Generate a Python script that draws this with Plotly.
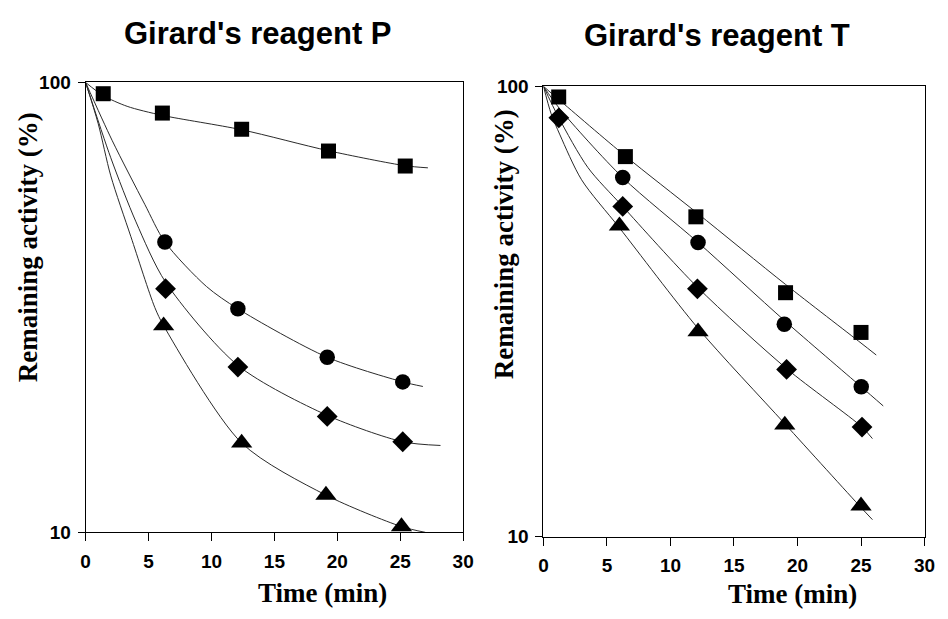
import plotly.graph_objects as go

W, H = 948, 619

# ---------------- Girard's reagent P (left) : measured points ----------------
P_sq_t = [1.4, 6.1, 12.4, 19.3, 25.4]
P_sq = [94.4, 85.5, 78.7, 70.4, 65.2]
P_ci_t = [6.3, 12.1, 19.2, 25.2]
P_ci = [44.2, 31.4, 24.5, 21.6]
P_di_t = [6.35, 12.1, 19.2, 25.2]
P_di = [34.8, 23.3, 18.1, 15.9]
P_tr_t = [6.2, 12.4, 19.1, 25.1]
P_tr = [28.8, 15.8, 12.1, 10.3]

# fitted curves
P_sq_ct = [0, 1.4, 3.3, 6.1, 12.4, 19.3, 25.4, 27.2]
P_sq_c = [100, 93.5, 88.5, 84.5, 78.5, 70.5, 65.3, 64.6]
P_ci_ct = [0, 2.1, 4.7, 6.3, 9.6, 12.1, 19.2, 25.2, 26.8]
P_ci_c = [100, 74.4, 53.6, 44.2, 35.2, 31.4, 24.5, 21.6, 21.1]
P_di_ct = [0, 2.0, 4.0, 6.35, 12.1, 19.2, 25.2, 28.2]
P_di_c = [100, 68, 49, 36, 23.5, 18.2, 15.9, 15.6]
P_tr_ct = [0, 1.0, 2.0, 3.6, 5.5, 6.2, 12.4, 19.1, 25.1, 27.0]
P_tr_c = [100, 81, 62, 45.4, 31.6, 28.8, 15.8, 12.1, 10.3, 10.0]

# ---------------- Girard's reagent T (right) : measured points ----------------
T_sq_t = [1.2, 6.45, 12.0, 19.06, 25.0]
T_sq = [94.7, 69.8, 51.3, 34.8, 28.4]
T_ci_t = [6.24, 12.17, 18.96, 25.02]
T_ci = [62.7, 45.0, 29.6, 21.5]
T_di_t = [1.21, 6.24, 12.12, 19.14, 25.08]
T_di = [85.1, 54.1, 35.5, 23.5, 17.5]
T_tr_t = [5.98, 12.17, 19.0, 25.0]
T_tr = [49.0, 28.5, 17.7, 11.7]

T_sq_ct = [0, 1.2, 6.45, 12.1, 19.06, 25.0, 26.2]
T_sq_c = [100, 93.5, 70, 52.3, 36.3, 26.9, 25.3]
T_ci_ct = [0, 1.3, 6.24, 12.17, 18.96, 25.02, 26.75]
T_ci_c = [100, 89, 62.7, 45.0, 30.2, 21.5, 19.5]
T_di_ct = [0, 1.21, 3.5, 6.24, 12.12, 19.14, 25.08, 25.9]
T_di_c = [100, 85.1, 66, 54.1, 35.8, 23.6, 17.5, 16.5]
T_tr_ct = [0, 0.6, 1.3, 3.0, 5.98, 12.17, 19.0, 25.0, 25.9]
T_tr_c = [100, 87, 78, 62, 48.5, 29.0, 17.8, 11.6, 10.9]

x_ticks = [0, 5, 10, 15, 20, 25, 30]
y_ticks = [10, 100]
y_ticktext = ["10", "100"]

titles = ["Girard's reagent P", "Girard's reagent T"]
x_title = "Time (min)"
y_title = "Remaining activity (%)"

fig = go.Figure()

LINE = dict(color="#2a2a2a", width=1)
MK = "black"


def add_panel(xa, ya, curves, points):
    for cx, cy in curves:
        fig.add_trace(go.Scatter(x=cx, y=cy, mode="lines", line=dict(shape="spline", smoothing=0.8, **LINE),
                                 xaxis=xa, yaxis=ya, showlegend=False, hoverinfo="skip"))
    for (px, py), sym, size in points:
        fig.add_trace(go.Scatter(x=px, y=py, mode="markers", cliponaxis=False,
                                 marker=dict(symbol=sym, size=size, color=MK, line=dict(width=0)),
                                 xaxis=xa, yaxis=ya, showlegend=False))


add_panel("x", "y",
          [(P_sq_ct, P_sq_c), (P_ci_ct, P_ci_c), (P_di_ct, P_di_c), (P_tr_ct, P_tr_c)],
          [((P_sq_t, P_sq), "square", 15), ((P_ci_t, P_ci), "circle", 15.5),
           ((P_di_t, P_di), "diamond", 16), ((P_tr_t, P_tr), "triangle-up", 18.5)])
add_panel("x2", "y2",
          [(T_sq_ct, T_sq_c), (T_ci_ct, T_ci_c), (T_di_ct, T_di_c), (T_tr_ct, T_tr_c)],
          [((T_sq_t, T_sq), "square", 15), ((T_ci_t, T_ci), "circle", 15.5),
           ((T_di_t, T_di), "diamond", 16), ((T_tr_t, T_tr), "triangle-up", 18.5)])

tickfont = dict(family="Liberation Sans", size=19, color="black", weight="bold")


def xaxis(domain, anchor):
    return dict(domain=domain, anchor=anchor, range=[0, 30], tickvals=x_ticks, ticks="outside",
                ticklen=8, tickwidth=1, tickcolor="black", showline=True, linecolor="black",
                linewidth=1, mirror=True, showgrid=False, zeroline=False, tickfont=tickfont,
                ticklabelstandoff=4)


def yaxis(domain, anchor):
    return dict(domain=domain, anchor=anchor, type="log", range=[1, 2], tickvals=y_ticks,
                ticktext=y_ticktext, ticks="outside", ticklen=7, tickwidth=1, tickcolor="black",
                showline=True, linecolor="black", linewidth=1, mirror=True, showgrid=False,
                zeroline=False, tickfont=tickfont, ticklabelstandoff=3)


def px_x(p):
    return p / W


def px_y(p):
    return 1 - p / H


fig.update_layout(
    width=W, height=H, margin=dict(l=0, r=0, t=0, b=0),
    paper_bgcolor="white", plot_bgcolor="white",
    xaxis=xaxis([px_x(82), px_x(466)], "y"),
    yaxis=yaxis([px_y(540.7), px_y(75)], "x"),
    xaxis2=xaxis([px_x(547.7), px_x(935.3)], "y2"),
    yaxis2=yaxis([px_y(545), px_y(79)], "x2"),
)

title_font = dict(family="Liberation Sans", size=31, color="black")
lab_font = dict(family="Liberation Serif", size=27, color="black")

ann = [
    dict(text="<b>%s</b>" % titles[0], x=px_x(257), y=px_y(24), font=title_font),
    dict(text="<b>%s</b>" % titles[1], x=px_x(724), y=px_y(26), font=title_font),
    dict(text="<b>%s</b>" % x_title, x=px_x(323), y=px_y(603), font=lab_font),
    dict(text="<b>%s</b>" % x_title, x=px_x(801), y=px_y(605), font=lab_font),
    dict(text="<b>%s</b>" % y_title, x=px_x(23), y=px_y(246), font=lab_font, textangle=-90),
    dict(text="<b>%s</b>" % y_title, x=px_x(507), y=px_y(242), font=lab_font, textangle=-90),
]
for a in ann:
    a.update(xref="paper", yref="paper", showarrow=False, xanchor="center", yanchor="middle")
fig.update_layout(annotations=ann)

fig.write_html("out.html", config={"displayModeBar": False},
               post_script="document.body.style.margin='0';document.body.style.overflow='hidden';")
